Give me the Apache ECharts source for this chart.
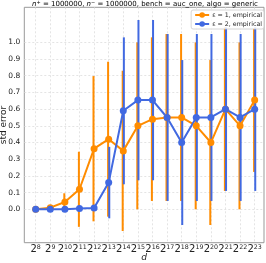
<!DOCTYPE html>
<html><head><meta charset="utf-8">
<script src="https://cdn.jsdelivr.net/npm/echarts@6/dist/echarts.min.js"></script>
<style>html,body{margin:0;padding:0;background:#fff}#c{width:266px;height:263px}</style>
</head><body><div id="c"></div>
<script>
const exponents = [8,9,10,11,12,13,14,15,16,17,18,19,20,21,22,23];
const eps1Mean = [0.0,0.01,0.044,0.12,0.363,0.42,0.35,0.50,0.54,0.55,0.55,0.50,0.40,0.60,0.50,0.654];
const eps1Std  = [0.003,0.012,0.052,0.225,0.435,0.464,0.48,0.50,0.49,0.50,0.50,0.50,0.494,0.49,0.50,0.43];
const eps2Mean = [0.0,0.0,0.0,0.005,0.008,0.16,0.59,0.654,0.654,0.55,0.40,0.55,0.55,0.60,0.55,0.60];
const eps2Std  = [0.002,0.002,0.002,0.01,0.01,0.214,0.44,0.48,0.48,0.50,0.494,0.50,0.50,0.49,0.50,0.49];
const yTicks = [0,0.1,0.2,0.3,0.4,0.5,0.6,0.7,0.8,0.9,1.0];
const names = ['ε = 1, empirical','ε = 2, empirical'];
const colors = ['#ff8c00','#4169e1'];

const FONT = 'DejaVu Sans';
function lineData(m){ return exponents.map((e,i)=>[e,m[i]]); }
function errData(m,s){ return exponents.map((e,i)=>[e,m[i]-s[i],m[i]+s[i]]); }
function errSeries(m,s,color,dx){
  return {
    type:'custom', name:'err'+color, silent:true,
    data: errData(m,s),
    encode:{x:0,y:[1,2]},
    renderItem:function(params,api){
      const x = api.value(0)+dx;
      const p1 = api.coord([x, api.value(1)]);
      const p2 = api.coord([x, api.value(2)]);
      return {type:'line', shape:{x1:p1[0],y1:p1[1],x2:p2[0],y2:p2[1]},
        style:{stroke:color,lineWidth:2}};
    }
  };
}
function lineSeries(idx,m){
  return {type:'line', name:names[idx], data:lineData(m), symbol:'circle', symbolSize:7,
    itemStyle:{color:colors[idx]}, lineStyle:{color:colors[idx],width:2}, z:3};
}
const chart = echarts.init(document.getElementById('c'),null,{renderer:'canvas'});
chart.setOption({
  animation:false,
  textStyle:{fontFamily:FONT},
  graphic:[{
    type:'text', x:145, y:4,
    style:{
      text:'{i|n}{s|+}{t| = 1000000, }{i|n}{s|−}{t| = 1000000, bench = auc_one, algo = generic}',
      align:'center', verticalAlign:'middle',
      rich:{
        t:{fontSize:7,fontFamily:FONT,color:'#222'},
        i:{fontSize:7,fontFamily:FONT,fontStyle:'italic',color:'#222'},
        s:{fontSize:5,fontFamily:FONT,color:'#222',verticalAlign:'top',padding:[0,0,3,0]}
      }
    }
  }],
  legend:{
    data:names, right:2, top:10, orient:'vertical',
    itemWidth:14, itemHeight:7, itemGap:3,
    padding:[2,2,2,3], borderColor:'#ccc', borderWidth:0.8, borderRadius:2,
    backgroundColor:'rgba(255,255,255,0.85)',
    textStyle:{fontSize:6.3,fontFamily:FONT,color:'#222',padding:[0,0,0,-2]}
  },
  grid:{left:24.3, right:2, top:7.3, bottom:20.3, show:true, borderColor:'#999', borderWidth:1,
    containLabel:false, outerBoundsMode:'none'},
  xAxis:{
    type:'value', min:7.22, max:23.64,
    name:'d', nameLocation:'middle', nameGap:10, nameMoveOverlap:false,
    nameTextStyle:{fontSize:9,fontStyle:'italic',fontFamily:FONT,color:'#222'},
    axisLine:{show:false}, axisTick:{show:false, customValues:exponents},
    axisLabel:{customValues:exponents, margin:2, hideOverlap:false, showMinLabel:true, showMaxLabel:true,
      formatter:v=>'{b|2}{s|'+v+'}',
      rich:{b:{fontSize:10,fontFamily:FONT,color:'#222'},
            s:{fontSize:6.3,fontFamily:FONT,color:'#222',verticalAlign:'top',padding:[0,0,4,0]}}},
    splitLine:{show:true, lineStyle:{color:'#ddd',type:[2,2],width:0.8}}
  },
  yAxis:{
    type:'value', min:-0.2, max:1.21,
    name:'std error', nameLocation:'middle', nameGap:16, nameMoveOverlap:false,
    nameTextStyle:{fontSize:9,fontFamily:FONT,color:'#222'},
    axisLine:{show:false}, axisTick:{show:false, customValues:yTicks},
    axisLabel:{customValues:yTicks, margin:4, fontSize:7.5, color:'#222', fontFamily:FONT,
      formatter:v=>v.toFixed(1)},
    splitLine:{show:true, lineStyle:{color:'#ddd',type:[2,2],width:0.8}}
  },
  series:[
    errSeries(eps1Mean,eps1Std,colors[0],-0.04),
    lineSeries(0,eps1Mean),
    errSeries(eps2Mean,eps2Std,colors[1],0.04),
    lineSeries(1,eps2Mean)
  ]
});
</script></body></html>
